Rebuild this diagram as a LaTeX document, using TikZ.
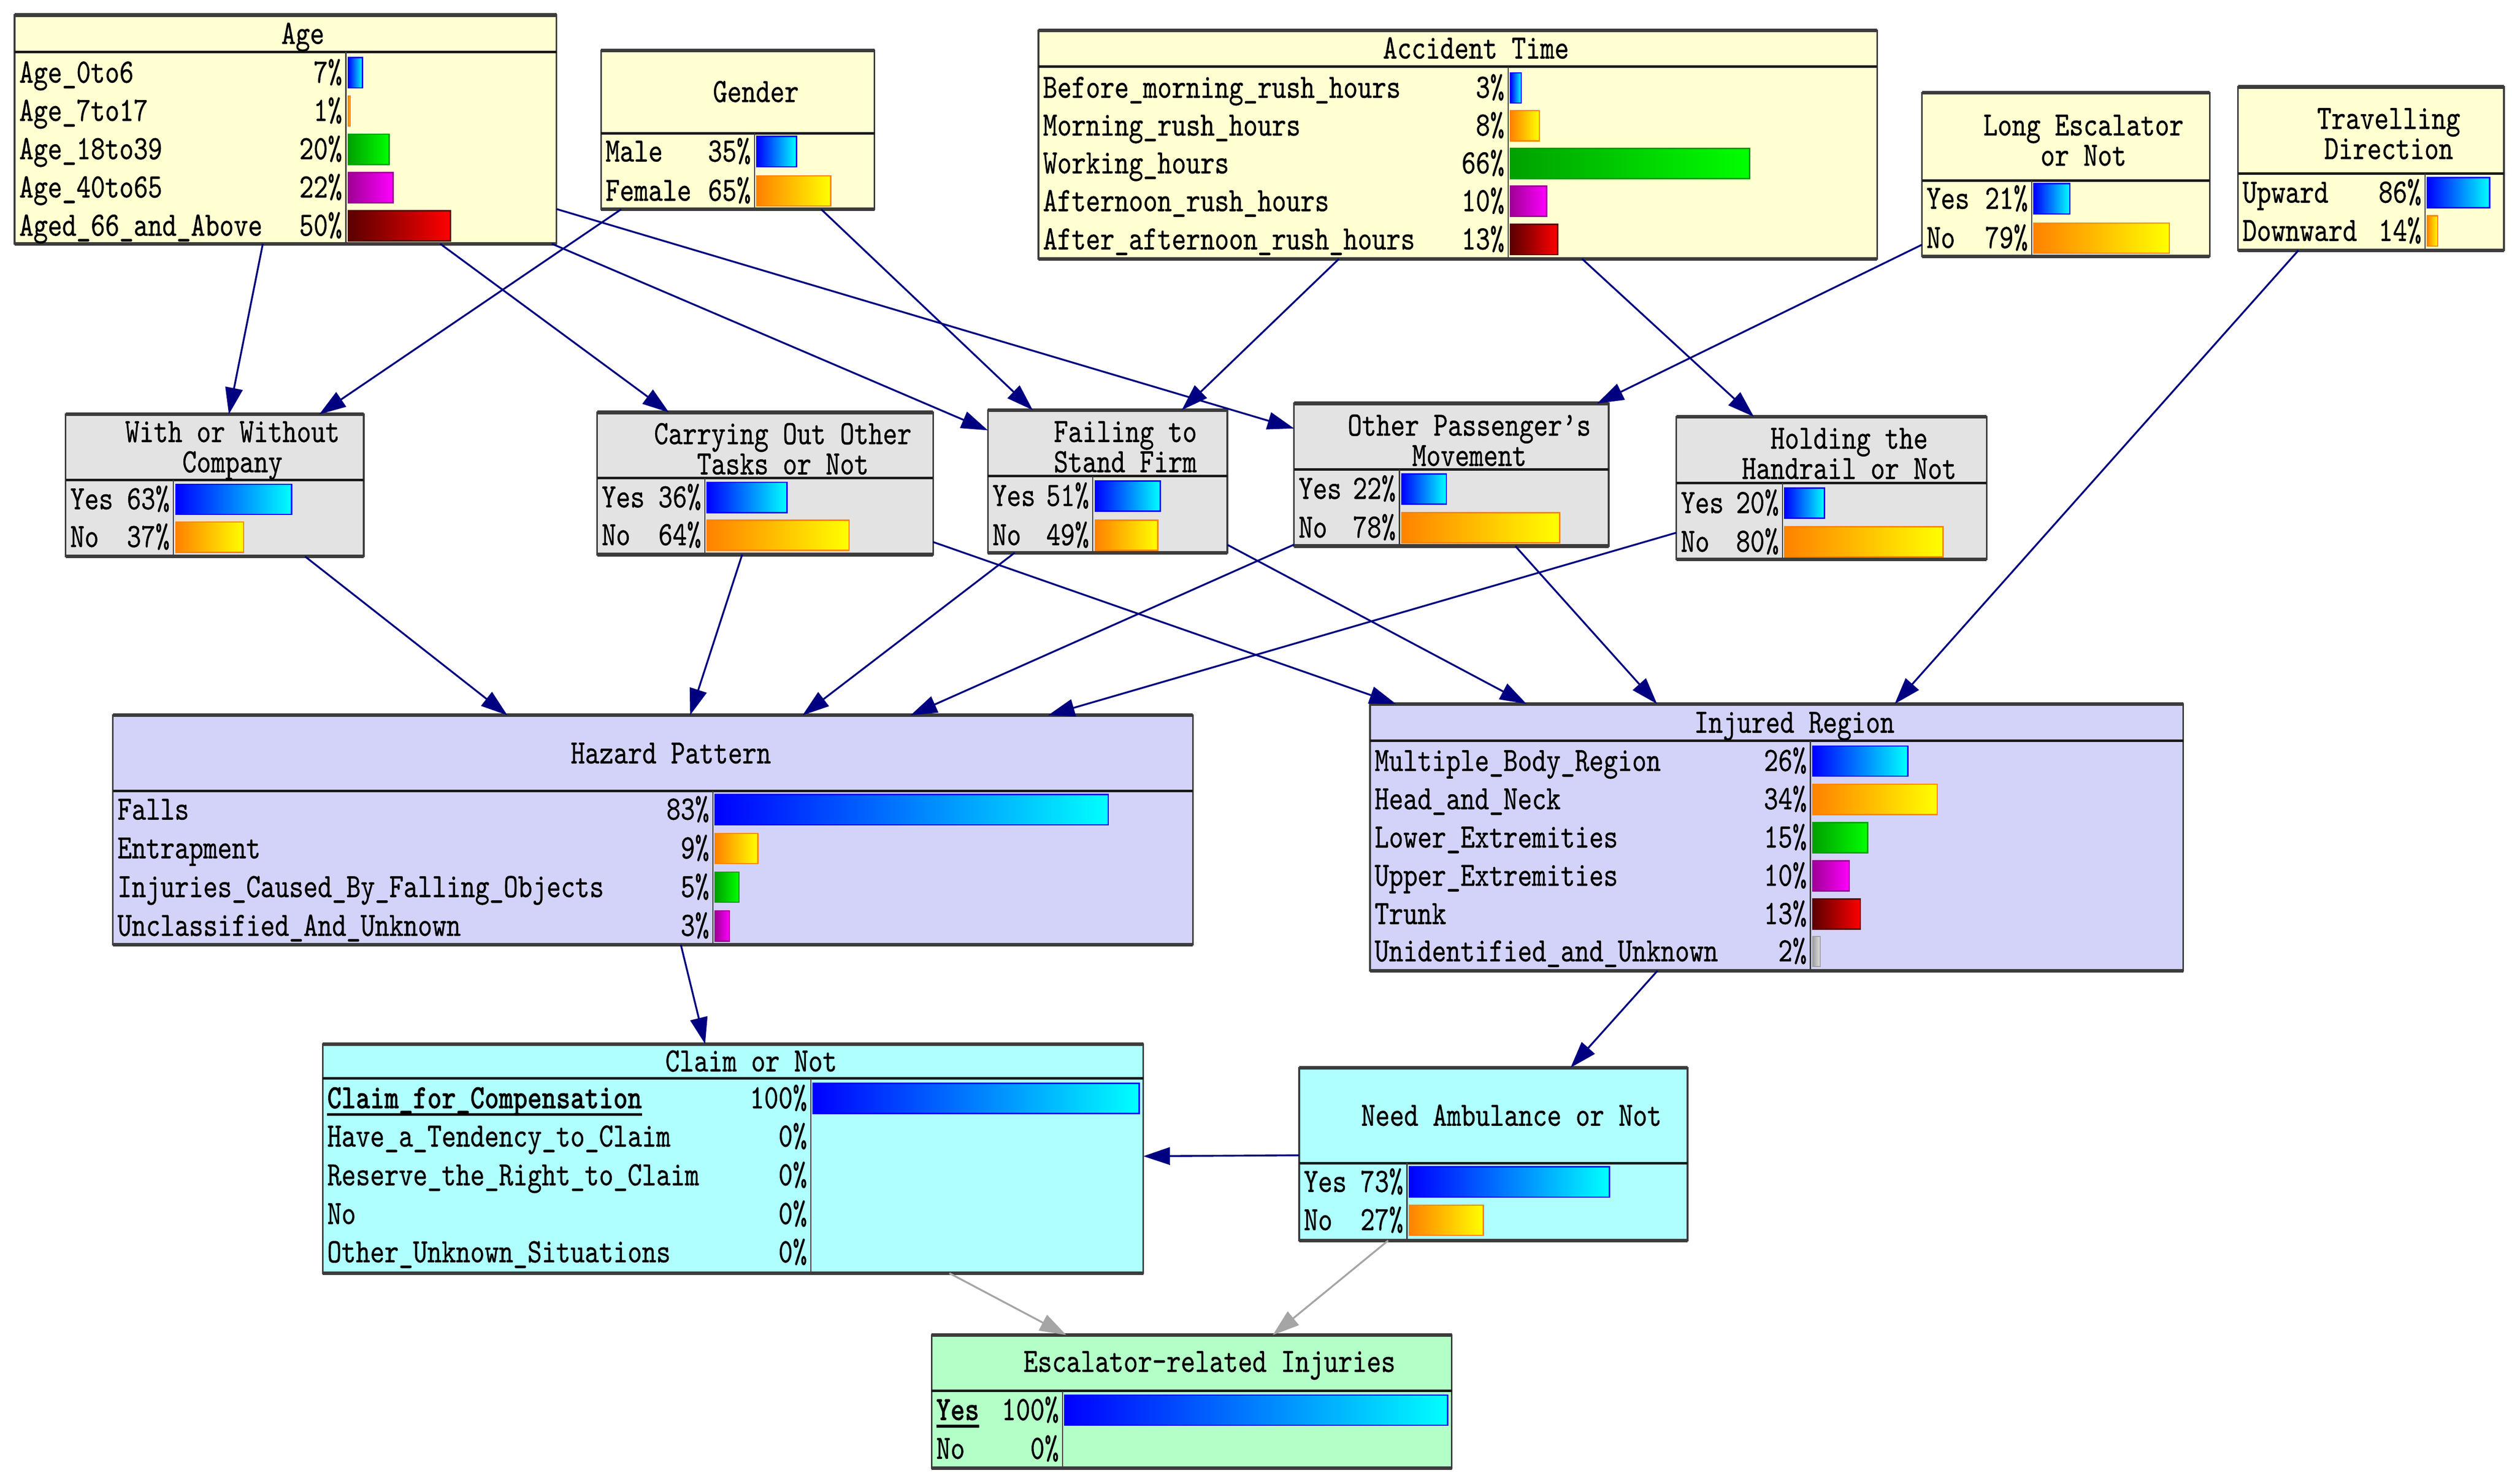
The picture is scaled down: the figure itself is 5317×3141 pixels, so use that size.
\documentclass[tikz,border=0pt]{standalone}
\usepackage{fontspec}
\newfontfamily\nf{lmmono10-regular}[Extension=.otf,FakeStretch=0.80,FakeBold=0.6]
\newfontfamily\nfb{lmmonolt10-bold}[Extension=.otf,FakeStretch=0.80,FakeBold=0.6]
\usetikzlibrary{arrows.meta}
\newcommand\mainfnt{\nf\fontsize{20.5pt}{18.2pt}\selectfont}
\newcommand\thickul[1]{\setbox0\hbox{#1}\rlap{\rule[-4.5pt]{\wd0}{1.6pt}}\box0}
\definecolor{yfill}{RGB}{255,255,210}
\definecolor{gfill}{RGB}{227,227,227}
\definecolor{lfill}{RGB}{211,211,250}
\definecolor{cfill}{RGB}{175,255,255}
\definecolor{efill}{RGB}{180,255,200}
\definecolor{edgeblue}{RGB}{0,0,128}
\definecolor{edgegray}{RGB}{165,165,165}
\definecolor{bord}{RGB}{60,60,60}
\definecolor{cBa}{RGB}{0,0,255}\definecolor{cBb}{RGB}{0,255,255}
\definecolor{cOa}{RGB}{255,130,0}\definecolor{cOb}{RGB}{255,255,0}
\definecolor{cGa}{RGB}{0,160,0}\definecolor{cGb}{RGB}{0,255,0}
\definecolor{cMa}{RGB}{160,0,150}\definecolor{cMb}{RGB}{255,0,255}
\definecolor{cRa}{RGB}{90,0,0}\definecolor{cRb}{RGB}{255,0,0}
\definecolor{cYa}{RGB}{160,160,160}\definecolor{cYb}{RGB}{225,225,225}
% box: name, x1, y1, x2, y2, ysep, xdiv, fill
\newcommand\bnbox[8]{%
  \node[box, fill=#8, minimum width={(#4-#2)*0.01cm}, minimum height={(#5-#3)*0.01cm}] (#1) at ({(#2+#4)/2},{(#3+#5)/2}) {};
  \draw[sepline] (#2,#6) -- (#4,#6);
  \draw[divline] (#7,#6) -- (#7,#5);
  \draw[tbline] (#2,#3) -- (#4,#3);
  \draw[tbline] (#2,#5) -- (#4,#5);
}
% row: name, idx, xleft, xdiv, xright, y, label, pct, barstyle
\newcommand\brow[9]{%
  \node[lbl] (#1-l#2) at ({#3+9},{#6+21}) {#7};
  \node[pctx] (#1-p#2) at ({#4-7},{#6+21}) {#8\%};
  \ifnum#8>0
    \draw[#9] ({#4+5},{#6-32}) rectangle ({#4+5+#8/100*(#5-#4-14)},{#6+32});
  \fi
}
\begin{document}
\begin{tikzpicture}[x=0.01cm,y=-0.01cm,
  box/.style={draw=bord, line width=1pt, inner sep=0pt, outer sep=0pt},
  sepline/.style={line width=1.5pt, black!90},
  divline/.style={line width=0.7pt, bord},
  tbline/.style={line width=2.2pt, bord},
  lbl/.style={anchor=base west, inner sep=0pt, font=\mainfnt},
  pctx/.style={anchor=base east, inner sep=0pt, font=\mainfnt},
  ttl/.style={inner sep=0pt, align=center, font=\mainfnt},
  ttlb/.style={anchor=base, inner sep=0pt, font=\mainfnt},
  con/.style={draw=edgeblue, line width=1.1pt, -{Triangle[length=16pt,width=10.5pt]}},
  cong/.style={draw=edgegray, line width=1.1pt, -{Triangle[length=16pt,width=10.5pt]}},
  barblue/.style={left color=cBa, right color=cBb, draw=cBa, line width=0.8pt},
  barorange/.style={left color=cOa, right color=cOb, draw=cOa, line width=0.8pt},
  bargreen/.style={left color=cGa, right color=cGb, draw=cGa, line width=0.8pt},
  barmag/.style={left color=cMa, right color=cMb, draw=cMa, line width=0.8pt},
  barred/.style={left color=cRa, right color=cRb, draw=cRa, line width=0.8pt},
  bargray/.style={left color=cYa, right color=cYb, draw=cYa, line width=0.8pt}]
\fill[white] (0,0) rectangle (5317,3141);
\useasboundingbox (0,0) rectangle (5317,3141);

% ---------- Age
\bnbox{age}{31}{32}{1178}{516}{110}{732}{yfill}
\node[ttlb] (age-t) at (641,93) {Age};
\brow{age}{1}{31}{732}{1178}{154}{Age\_0to6}{7}{barblue}
\brow{age}{2}{31}{732}{1178}{235}{Age\_7to17}{1}{barorange}
\brow{age}{3}{31}{732}{1178}{316}{Age\_18to39}{20}{bargreen}
\brow{age}{4}{31}{732}{1178}{397}{Age\_40to65}{22}{barmag}
\brow{age}{5}{31}{732}{1178}{478}{Aged\_66\_and\_Above}{50}{barred}

% ---------- Gender
\bnbox{gender}{1272}{107}{1851}{443}{282}{1597}{yfill}
\node[ttlb] (gender-t) at (1600,216) {Gender};
\brow{gender}{1}{1272}{1597}{1851}{321}{Male}{35}{barblue}
\brow{gender}{2}{1272}{1597}{1851}{404}{Female}{65}{barorange}

% ---------- Accident Time
\bnbox{acc}{2198}{64}{3973}{548}{141}{3192}{yfill}
\node[ttlb] (acc-t) at (3124,124) {Accident Time};
\brow{acc}{1}{2198}{3192}{3973}{186}{Before\_morning\_rush\_hours}{3}{barblue}
\brow{acc}{2}{2198}{3192}{3973}{266}{Morning\_rush\_hours}{8}{barorange}
\brow{acc}{3}{2198}{3192}{3973}{346}{Working\_hours}{66}{bargreen}
\brow{acc}{4}{2198}{3192}{3973}{426}{Afternoon\_rush\_hours}{10}{barmag}
\brow{acc}{5}{2198}{3192}{3973}{507}{After\_afternoon\_rush\_hours}{13}{barred}

% ---------- Long Escalator
\bnbox{longesc}{4068}{196}{4677}{543}{382}{4300}{yfill}
\node[ttl] (longesc-t) at (4410,297) {Long Escalator\\or Not};
\brow{longesc}{1}{4068}{4300}{4677}{421}{Yes}{21}{barblue}
\brow{longesc}{2}{4068}{4300}{4677}{504}{No}{79}{barorange}

% ---------- Travelling Direction
\bnbox{travel}{4737}{184}{5300}{530}{367}{5133}{yfill}
\node[ttl] (travel-t) at (5056,283) {Travelling\\Direction};
\brow{travel}{1}{4737}{5133}{5300}{408}{Upward}{86}{barblue}
\brow{travel}{2}{4737}{5133}{5300}{489}{Downward}{14}{barorange}

% ---------- With or Without Company
\bnbox{with}{139}{877}{770}{1178}{1016}{367}{gfill}
\node[ttl] (with-t) at (492,954) {With or Without\\Company};
\brow{with}{1}{139}{367}{770}{1057}{Yes}{63}{barblue}
\brow{with}{2}{139}{367}{770}{1137}{No}{37}{barorange}

% ---------- Carrying Out Other Tasks
\bnbox{carry}{1264}{873}{1975}{1174}{1012}{1492}{gfill}
\node[ttl] (carry-t) at (1657,950) {Carrying Out Other\\Tasks or Not};
\brow{carry}{1}{1264}{1492}{1975}{1053}{Yes}{36}{barblue}
\brow{carry}{2}{1264}{1492}{1975}{1133}{No}{64}{barorange}

% ---------- Failing to Stand Firm
\bnbox{fail}{2091}{868}{2598}{1170}{1008}{2313}{gfill}
\node[ttl] (fail-t) at (2382,946) {Failing to\\Stand Firm};
\brow{fail}{1}{2091}{2313}{2598}{1050}{Yes}{51}{barblue}
\brow{fail}{2}{2091}{2313}{2598}{1133}{No}{49}{barorange}

% ---------- Other Passenger's Movement
\bnbox{other}{2739}{854}{3405}{1156}{994}{2962}{gfill}
\node[ttl] (other-t) at (3110,932) {Other Passenger’s\\Movement};
\brow{other}{1}{2739}{2962}{3405}{1035}{Yes}{22}{barblue}
\brow{other}{2}{2739}{2962}{3405}{1117}{No}{78}{barorange}

% ---------- Holding the Handrail
\bnbox{hold}{3548}{882}{4205}{1184}{1022}{3773}{gfill}
\node[ttl] (hold-t) at (3914,960) {Holding the\\Handrail or Not};
\brow{hold}{1}{3548}{3773}{4205}{1065}{Yes}{20}{barblue}
\brow{hold}{2}{3548}{3773}{4205}{1147}{No}{80}{barorange}

% ---------- Hazard Pattern
\bnbox{hazard}{239}{1514}{2525}{2000}{1674}{1509}{lfill}
\node[ttlb] (hazard-t) at (1420,1616) {Hazard Pattern};
\brow{hazard}{1}{239}{1509}{2525}{1714}{Falls}{83}{barblue}
\brow{hazard}{2}{239}{1509}{2525}{1796}{Entrapment}{9}{barorange}
\brow{hazard}{3}{239}{1509}{2525}{1878}{Injuries\_Caused\_By\_Falling\_Objects}{5}{bargreen}
\brow{hazard}{4}{239}{1509}{2525}{1960}{Unclassified\_And\_Unknown}{3}{barmag}

% ---------- Injured Region
\bnbox{injured}{2900}{1490}{4621}{2055}{1568}{3832}{lfill}
\node[ttlb] (injured-t) at (3798,1551) {Injured Region};
\brow{injured}{1}{2900}{3832}{4621}{1611}{Multiple\_Body\_Region}{26}{barblue}
\brow{injured}{2}{2900}{3832}{4621}{1692}{Head\_and\_Neck}{34}{barorange}
\brow{injured}{3}{2900}{3832}{4621}{1773}{Lower\_Extremities}{15}{bargreen}
\brow{injured}{4}{2900}{3832}{4621}{1854}{Upper\_Extremities}{10}{barmag}
\brow{injured}{5}{2900}{3832}{4621}{1935}{Trunk}{13}{barred}
\brow{injured}{6}{2900}{3832}{4621}{2014}{Unidentified\_and\_Unknown}{2}{bargray}

% ---------- Claim or Not
\bnbox{claim}{683}{2210}{2420}{2695}{2283}{1716}{cfill}
\node[ttlb] (claim-t) at (1590,2268) {Claim or Not};
\brow{claim}{1}{683}{1716}{2420}{2325}{{\nfb\thickul{Claim\_for\_Compensation}}}{100}{barblue}
\brow{claim}{2}{683}{1716}{2420}{2406}{Have\_a\_Tendency\_to\_Claim}{0}{barblue}
\brow{claim}{3}{683}{1716}{2420}{2488}{Reserve\_the\_Right\_to\_Claim}{0}{barblue}
\brow{claim}{4}{683}{1716}{2420}{2570}{No}{0}{barblue}
\brow{claim}{5}{683}{1716}{2420}{2651}{Other\_Unknown\_Situations}{0}{barblue}

% ---------- Need Ambulance
\bnbox{amb}{2750}{2260}{3572}{2626}{2462}{2978}{cfill}
\node[ttlb] (amb-t) at (3199,2383) {Need Ambulance or Not};
\brow{amb}{1}{2750}{2978}{3572}{2502}{Yes}{73}{barblue}
\brow{amb}{2}{2750}{2978}{3572}{2583}{No}{27}{barorange}

% ---------- Escalator-related Injuries
\bnbox{esc}{1972}{2826}{3073}{3108}{2944}{2249}{efill}
\node[ttlb] (esc-t) at (2560,2904) {Escalator-related Injuries};
\brow{esc}{1}{1972}{2249}{3073}{2985}{{\nfb\thickul{Yes}}}{100}{barblue}
\brow{esc}{2}{1972}{2249}{3073}{3067}{No}{0}{barblue}

% ---------- connectors
\draw[con] (age) -- (with);
\draw[con] (gender) -- (with);
\draw[con] (age) -- (carry);
\draw[con] (age) -- (fail);
\draw[con] (gender) -- (fail);
\draw[con] (acc) -- (fail);
\draw[con] (age) -- (other);
\draw[con] (longesc) -- (other);
\draw[con] (acc) -- (hold);
\draw[con] (travel) -- (injured);
\draw[con] (with) -- (hazard);
\draw[con] (carry) -- (hazard);
\draw[con] (fail) -- (hazard);
\draw[con] (other) -- (hazard);
\draw[con] (hold) -- (hazard);
\draw[con] (carry) -- (injured);
\draw[con] (fail) -- (injured);
\draw[con] (other) -- (injured);
\draw[con] (hazard) -- (claim);
\draw[con] (injured) -- (amb);
\draw[con] (amb) -- (claim);
\draw[cong] (claim) -- (esc);
\draw[cong] (amb) -- (esc);
\end{tikzpicture}
\end{document}
